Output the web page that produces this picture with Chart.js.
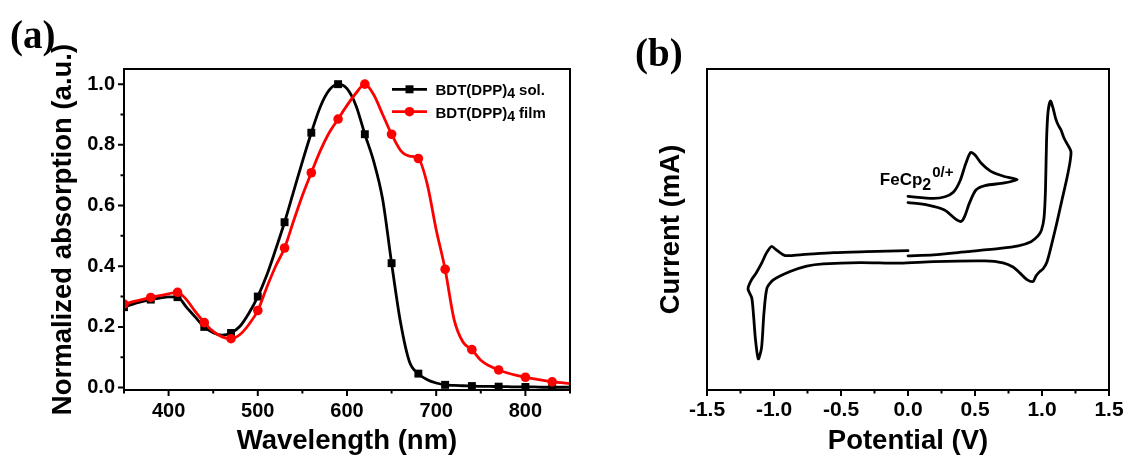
<!DOCTYPE html>
<html>
<head>
<meta charset="utf-8">
<script src="https://cdn.jsdelivr.net/npm/chart.js@4.4.1/dist/chart.umd.min.js"></script>
<style>
html,body{margin:0;padding:0;background:#fff;width:1128px;height:458px;overflow:hidden;}
#wrapA{position:absolute;left:0;top:0;width:600px;height:458px;}
#wrapB{position:absolute;left:600px;top:0;width:528px;height:458px;}
.plabel{position:absolute;font-family:"Liberation Serif","Times New Roman",serif;font-weight:bold;font-size:39px;line-height:39px;color:#000;}
</style>
</head>
<body>
<div id="wrapA"><canvas id="cA"></canvas></div>
<div id="wrapB"><canvas id="cB"></canvas></div>
<div class="plabel" style="left:10px;top:15px">(a)</div>
<div class="plabel" style="left:635px;top:33px">(b)</div>
<script>
// ---------- Panel (a): UV-vis absorption ----------
const wavelengthNm = [350,360,370,380,390,400,410,420,430,440,450,460,470,480,490,500,510,520,530,540,550,560,570,580,590,600,610,620,630,640,650,660,670,680,690,700,710,720,730,740,750,760,770,780,790,800,810,820,830,840,850];
const solAbs = [0.265,0.275,0.283,0.290,0.295,0.299,0.298,0.265,0.232,0.200,0.181,0.173,0.180,0.202,0.245,0.300,0.370,0.455,0.545,0.645,0.745,0.840,0.925,0.980,1.000,0.985,0.930,0.835,0.745,0.620,0.410,0.215,0.085,0.046,0.026,0.015,0.009,0.007,0.006,0.005,0.004,0.004,0.003,0.003,0.002,0.002,0.002,0.001,0.001,0.001,0.001];
const filmAbs = [0.275,0.283,0.290,0.297,0.303,0.309,0.314,0.290,0.250,0.214,0.185,0.167,0.161,0.175,0.208,0.254,0.330,0.400,0.460,0.548,0.633,0.708,0.780,0.840,0.885,0.930,0.970,1.000,0.965,0.900,0.835,0.782,0.763,0.755,0.670,0.520,0.390,0.225,0.150,0.125,0.090,0.071,0.058,0.048,0.040,0.034,0.029,0.024,0.019,0.016,0.013];
const markerNm = [350,380,410,440,470,500,530,560,590,620,650,680,710,740,770,800,830];
const seriesNames = ['BDT(DPP)\u2084 sol.', 'BDT(DPP)\u2084 film'];
const xTicksA = [400,500,600,700,800];
const xMinorA = [350,450,550,650,750,850];
const yTicksA = [0.0,0.2,0.4,0.6,0.8,1.0];
const yMinorA = [0.1,0.3,0.5,0.7,0.9];

// ---------- Panel (b): cyclic voltammetry ----------
const cvPotential = [0.000,0.19,0.44,0.687,0.823,0.918,0.970,0.996,1.015,1.026,1.034,1.045,1.063,1.082,1.101,1.119,1.142,1.164,1.194,1.216,1.209,1.183,1.149,1.112,1.071,1.037,1.007,0.981,0.955,0.933,0.888,0.836,0.784,0.709,0.575,0.19,-0.06,-0.358,-0.632,-0.756,-0.88,-1.005,-1.052,-1.075,-1.093,-1.117,-1.138,-1.153,-1.166,-1.194,-1.168,-1.134,-1.092,-1.06,-1.019,-0.978,-0.918,-0.806,-0.557,-0.308,0.000];
const cvCurrent = [41.8,42.1,43.1,44.1,44.9,46.2,48.0,49.8,53.6,62.3,77.9,86.6,90.0,87.9,84.7,82.7,81.0,78.5,76.2,74.3,71.0,65.4,59.2,52.3,45.2,39.9,37.7,36.8,35.5,33.8,34.4,36.4,38.3,39.6,40.2,40.0,39.5,39.7,39.3,38.6,36.9,34.3,31.8,24.0,13.1,9.7,15.6,23.4,28.7,31.5,34.3,36.4,39.5,42.4,44.7,43.5,41.9,42.1,42.8,43.1,43.4];
const fcPotential = [0.000,0.187,0.276,0.34,0.388,0.43,0.467,0.50,0.545,0.619,0.719,0.815,0.719,0.575,0.507,0.459,0.422,0.396,0.351,0.272,0.149,0.000];
const fcCurrent = [60.3,59.7,60.2,61.7,65.1,70.4,74.0,73.2,70.7,68.1,66.5,65.6,64.5,63.7,62.3,58.3,54.0,52.5,53.4,56.1,57.6,58.4];
const xTicksB = [-1.5,-1.0,-0.5,0.0,0.5,1.0,1.5];
const xMinorB = [-1.25,-0.75,-0.25,0.25,0.75,1.25];

Chart.defaults.font.family = "'Liberation Sans', Arial, sans-serif";
Chart.defaults.font.weight = 'bold';
Chart.defaults.color = '#000';

const frameTicks = {
  id: 'frameTicks',
  afterDraw(chart, args, opts) {
    const {ctx, chartArea: a} = chart;
    const x = chart.scales.x, y = chart.scales.y;
    ctx.save();
    ctx.strokeStyle = '#000';
    ctx.lineWidth = opts.lineWidth || 2;
    ctx.beginPath();
    (opts.xMajor || []).forEach(v => { const p = x.getPixelForValue(v); ctx.moveTo(p, a.bottom); ctx.lineTo(p, a.bottom + opts.majorLen); });
    (opts.xMinor || []).forEach(v => { const p = x.getPixelForValue(v); ctx.moveTo(p, a.bottom); ctx.lineTo(p, a.bottom + opts.minorLen); });
    (opts.yMajor || []).forEach(v => { const p = y.getPixelForValue(v); ctx.moveTo(a.left, p); ctx.lineTo(a.left - opts.majorLen, p); });
    (opts.yMinor || []).forEach(v => { const p = y.getPixelForValue(v); ctx.moveTo(a.left, p); ctx.lineTo(a.left - opts.minorLen, p); });
    ctx.stroke();
    ctx.strokeRect(a.left, a.top, a.right - a.left, a.bottom - a.top);
    ctx.restore();
  }
};

function drawSubText(ctx, text, x, baseline, size, subSize, subDrop) {
  // renders '\u2084' as a lowered digit 4
  const parts = text.split('\u2084');
  let cx = x;
  parts.forEach((p, i) => {
    ctx.font = 'bold ' + size + 'px "Liberation Sans", Arial, sans-serif';
    ctx.fillText(p, cx, baseline);
    cx += ctx.measureText(p).width;
    if (i < parts.length - 1) {
      ctx.font = 'bold ' + subSize + 'px "Liberation Sans", Arial, sans-serif';
      ctx.fillText('4', cx, baseline + subDrop);
      cx += ctx.measureText('4').width;
    }
  });
}

const inlineLegend = {
  id: 'inlineLegend',
  afterDraw(chart, args, opts) {
    if (!opts.items) return;
    const {ctx, chartArea: a} = chart;
    ctx.save();
    opts.items.forEach((idx, row) => {
      const ds = chart.data.datasets[idx];
      const ly = a.top + opts.top + row * opts.rowGap;
      const x1 = a.right - opts.fromRight;
      const x2 = x1 + opts.lineLen;
      ctx.strokeStyle = ds.borderColor;
      ctx.fillStyle = ds.borderColor;
      ctx.lineWidth = ds.borderWidth;
      ctx.beginPath(); ctx.moveTo(x1, ly); ctx.lineTo(x2, ly); ctx.stroke();
      const mx = (x1 + x2) / 2;
      ctx.beginPath();
      if (ds.pointStyle === 'rect') { ctx.rect(mx - 4, ly - 4, 8, 8); }
      else { ctx.arc(mx, ly, 4.8, 0, Math.PI * 2); }
      ctx.fill();
      ctx.fillStyle = '#000';
      ctx.textBaseline = 'alphabetic';
      drawSubText(ctx, ds.label, x2 + opts.textGap, ly + opts.baseOff, opts.size, opts.subSize, opts.subDrop);
    });
    ctx.restore();
  }
};

const fcNote = {
  id: 'fcNote',
  afterDraw(chart, args, opts) {
    if (!opts.text) return;
    const {ctx} = chart;
    const x = chart.scales.x.getPixelForValue(opts.x);
    const y = chart.scales.y.getPixelForValue(opts.y);
    ctx.save();
    ctx.fillStyle = '#000';
    ctx.textBaseline = 'alphabetic';
    const fam = '"Liberation Sans", Arial, sans-serif';
    ctx.font = 'bold ' + opts.size + 'px ' + fam;
    ctx.fillText(opts.text, x, y);
    let cx = x + ctx.measureText(opts.text).width;
    ctx.font = 'bold ' + opts.subSize + 'px ' + fam;
    ctx.fillText(opts.sub, cx, y + opts.subDrop);
    cx += ctx.measureText(opts.sub).width + 1;
    ctx.font = 'bold ' + opts.supSize + 'px ' + fam;
    ctx.fillText(opts.sup, cx, y - opts.supRise);
    ctx.restore();
  }
};

const tickFont = {size: 20, weight: 'bold'};
const titleFont = {size: 27.5, weight: 'bold'};

new Chart(document.getElementById('cA'), {
  type: 'line',
  data: {
    datasets: [
      {
        label: seriesNames[0],
        data: wavelengthNm.map((w, i) => ({x: w, y: solAbs[i]})),
        borderColor: '#000000', backgroundColor: '#000000', borderWidth: 2.8,
        pointStyle: 'rect', pointBorderWidth: 0,
        pointRadius: c => markerNm.includes(wavelengthNm[c.dataIndex]) ? 5.6 : 0,
        pointHoverRadius: 0, cubicInterpolationMode: 'monotone', fill: false, order: 1
      },
      {
        label: seriesNames[1],
        data: wavelengthNm.map((w, i) => ({x: w, y: filmAbs[i]})),
        borderColor: '#ff0000', backgroundColor: '#ff0000', borderWidth: 2.8,
        pointStyle: 'circle', pointBorderWidth: 0,
        pointRadius: c => markerNm.includes(wavelengthNm[c.dataIndex]) ? 4.8 : 0,
        pointHoverRadius: 0, cubicInterpolationMode: 'monotone', fill: false, order: 0
      }
    ]
  },
  options: {
    responsive: true, maintainAspectRatio: false, animation: false,
    layout: {padding: {top: 69, right: 30, left: 0, bottom: 0}},
    events: [],
    plugins: {
      legend: {display: false}, tooltip: {enabled: false},
      frameTicks: {xMajor: xTicksA, xMinor: xMinorA, yMajor: yTicksA, yMinor: yMinorA, majorLen: 6, minorLen: 3.5, lineWidth: 2},
      inlineLegend: {items: [0, 1], top: 20.3, rowGap: 22.4, fromRight: 178, lineLen: 35, textGap: 8.5, baseOff: 6, size: 15, subSize: 14, subDrop: 3}
    },
    scales: {
      x: {
        type: 'linear', min: 350, max: 850,
        afterBuildTicks: s => { s.ticks = xTicksA.map(v => ({value: v})); },
        afterFit: s => { s.height = 68; s.paddingLeft = 0; s.paddingRight = 0; },
        grid: {display: false, drawTicks: false}, border: {display: false},
        ticks: {font: tickFont, color: '#000', padding: 9, autoSkip: false, maxRotation: 0, callback: v => String(v)},
        title: {display: true, text: 'Wavelength (nm)', font: titleFont, color: '#000', padding: {top: 0, bottom: 0}}
      },
      y: {
        type: 'linear', min: -0.008, max: 1.05,
        afterBuildTicks: s => { s.ticks = yTicksA.map(v => ({value: v})); },
        afterFit: s => { s.width = 124; s.paddingTop = 0; s.paddingBottom = 0; },
        grid: {display: false, drawTicks: false}, border: {display: false},
        ticks: {font: tickFont, color: '#000', padding: 9, autoSkip: false, callback: v => Number(v).toFixed(1)},
        title: {display: true, text: 'Normalized absorption (a.u.)', font: titleFont, color: '#000', padding: {top: 47, bottom: 0}}
      }
    }
  },
  plugins: [frameTicks, inlineLegend]
});

new Chart(document.getElementById('cB'), {
  type: 'scatter',
  data: {
    datasets: [
      {
        label: 'BDT(DPP)\u2084',
        data: cvPotential.map((v, i) => ({x: v, y: cvCurrent[i]})),
        showLine: true, borderColor: '#000', borderWidth: 2.8, pointRadius: 0, pointHoverRadius: 0,
        tension: 0.25, borderJoinStyle: 'round', borderCapStyle: 'round', fill: false
      },
      {
        label: 'FeCp\u2082',
        data: fcPotential.map((v, i) => ({x: v, y: fcCurrent[i]})),
        showLine: true, borderColor: '#000', borderWidth: 2.8, pointRadius: 0, pointHoverRadius: 0,
        tension: 0.25, borderJoinStyle: 'round', borderCapStyle: 'round', fill: false
      }
    ]
  },
  options: {
    responsive: true, maintainAspectRatio: false, animation: false,
    layout: {padding: {top: 69, right: 19, left: 0, bottom: 0}},
    events: [],
    plugins: {
      legend: {display: false}, tooltip: {enabled: false},
      frameTicks: {xMajor: xTicksB, xMinor: xMinorB, yMajor: [], yMinor: [], majorLen: 6, minorLen: 3.5, lineWidth: 2},
      fcNote: {text: 'FeCp', sub: '2', sup: '0/+', x: -0.21, y: 63.9, size: 17, subSize: 16, subDrop: 5, supSize: 15, supRise: 8}
    },
    scales: {
      x: {
        type: 'linear', min: -1.5, max: 1.5,
        afterBuildTicks: s => { s.ticks = xTicksB.map(v => ({value: v})); },
        afterFit: s => { s.height = 68; s.paddingLeft = 0; s.paddingRight = 0; },
        grid: {display: false, drawTicks: false}, border: {display: false},
        ticks: {font: {size: 21, weight: 'bold'}, color: '#000', padding: 8, autoSkip: false, maxRotation: 0, callback: v => Number(v).toFixed(1)},
        title: {display: true, text: 'Potential (V)', font: titleFont, color: '#000', padding: {top: 0, bottom: 0}}
      },
      y: {
        type: 'linear', min: 0, max: 100,
        afterFit: s => { s.width = 107; s.paddingTop = 0; s.paddingBottom = 0; },
        grid: {display: false, drawTicks: false}, border: {display: false},
        ticks: {display: false},
        title: {display: true, text: 'Current (mA)', font: titleFont, color: '#000', padding: {top: 55, bottom: 0}}
      }
    }
  },
  plugins: [frameTicks, fcNote]
});
</script>
</body>
</html>
